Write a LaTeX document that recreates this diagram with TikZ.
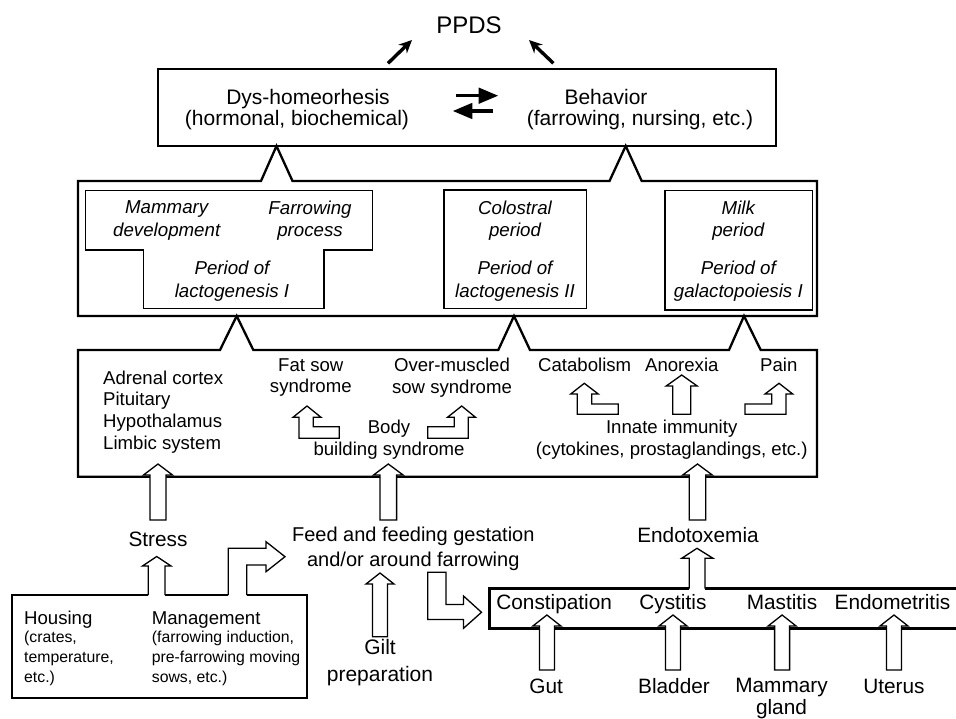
\documentclass[tikz,border=0pt]{standalone}
\usepackage{fontspec}
\setmainfont{Liberation Sans}
\usetikzlibrary{arrows, arrows.meta}

\tikzstyle{frame} = [line width=2.3pt, line join=miter]
\tikzstyle{inner} = [line width=1.3pt]
\tikzstyle{hollow} = [draw=black, fill=white, line width=1.3pt, line join=miter]
\tikzstyle{arrow} = [line width=3.4pt, -{Stealth[length=13pt, width=12pt]}]
\tikzstyle{swap} = [line width=3.6pt, ->, >=triangle 45]
\tikzstyle{toptext} = [font=\fontsize{21}{24}\selectfont, inner sep=0pt, anchor=base]
\tikzstyle{period} = [font=\fontsize{18.7}{22.5}\selectfont\itshape, align=center, inner sep=0pt]
\tikzstyle{factor} = [font=\fontsize{18.6}{21.8}\selectfont, align=center, inner sep=0pt]
\tikzstyle{cause} = [font=\fontsize{20.8}{25.5}\selectfont, align=center, inner sep=0pt]
\tikzstyle{note} = [font=\fontsize{15.8}{20}\selectfont, align=left, inner sep=0pt]

% straight block arrow: centre x, foot y, tip y, half shaft width
\newcommand{\blockup}[4]{%
  \draw[hollow] (#1-#4,#2) -- (#1-#4,#3+11) -- (#1-#4-6.5,#3+11) -- (#1,#3)
    -- (#1+#4+6.5,#3+11) -- (#1+#4,#3+11) -- (#1+#4,#2) -- cycle;}

\begin{document}
\begin{tikzpicture}[x=1pt, y=-1pt]
	\useasboundingbox (0,0) rectangle (956,719);

	% outcome
	\node (ppds) [font=\fontsize{24}{28}\selectfont, inner sep=0pt, anchor=base] at (469,33.6) {PPDS};
	\node (topbox) [draw, line width=1.5pt, minimum width=618pt, minimum height=77pt, inner sep=0pt] at (467,107.5) {};
	\node (dys) [toptext] at (308,104.5) {Dys-homeorhesis};
	\node (dysnote) [toptext] at (297,125.5) {(hormonal, biochemical)};
	\node (beh) [toptext] at (606,104.5) {Behavior};
	\node (behnote) [toptext] at (640,125.5) {(farrowing, nursing, etc.)};

	\coordinate (pl) at (388,63.3);
	\coordinate (pl-tip) at (412,40);
	\coordinate (pr) at (553.4,63.3);
	\coordinate (pr-tip) at (529,40);
	\draw [arrow] (pl) -- (pl-tip);
	\draw [arrow] (pr) -- (pr-tip);

	\coordinate (sw1) at (456,95.7);
	\coordinate (sw2) at (498,95.7);
	\coordinate (sw3) at (493,111);
	\coordinate (sw4) at (453,111);
	\draw [swap] (sw1) -- (sw2);
	\draw [swap] (sw3) -- (sw4);

	% periods
	\draw [frame] (78,181) -- (261,181) -- (276.5,146) -- (292.5,181) -- (609.5,181) -- (625.7,146) -- (641.7,181)
		-- (817,181) -- (817,316) -- (78,316) -- cycle;
	\draw [inner] (85.7,190.7) -- (372.7,190.7) -- (372.7,250) -- (324,250) -- (324,308.3)
		-- (143.3,308.3) -- (143.3,250) -- (85.7,250) -- cycle;
	\draw [inner] (444,190) rectangle (586.7,308.3);
	\draw [inner] (665,190.7) rectangle (812.7,310);

	\node (mamm) [period] at (166.7,220.5) {Mammary\\development};
	\node (farr) [period] at (310,220.5) {Farrowing\\process};
	\node (lact1) [period] at (232,281) {Period of\\lactogenesis I};
	\node (colo) [period] at (515,220.5) {Colostral\\period};
	\node (lact2) [period] at (515,281) {Period of\\lactogenesis II};
	\node (milk) [period] at (738.3,220.5) {Milk\\period};
	\node (galac) [period] at (738.3,281) {Period of\\galactopoiesis I};

	% mechanisms
	\draw [frame] (78,350) -- (220,350) -- (236.7,316) -- (253.3,350) -- (498.3,350) -- (514,316) -- (530,350)
		-- (729,350) -- (744,316) -- (760.7,350) -- (817,350) -- (817,476.7) -- (78,476.7) -- cycle;

	\node (brain) [factor, align=left, anchor=west] at (103,412) {Adrenal cortex\\Pituitary\\Hypothalamus\\Limbic system};
	\node (fatsow) [factor] at (310.8,377.5) {Fat sow\\syndrome};
	\node (overm) [factor] at (452,377.5) {Over-muscled\\sow syndrome};
	\node (body) [factor] at (389,440) {Body\\building syndrome};
	\node (catab) [factor, anchor=base] at (584.7,371.7) {Catabolism};
	\node (anor) [factor, anchor=base] at (681.8,371.7) {Anorexia};
	\node (pain) [factor, anchor=base] at (778.8,371.7) {Pain};
	\node (innate) [factor] at (671.7,440) {Innate immunity\\(cytokines, prostaglandings, etc.)};

	\draw [hollow] (299,438.3) -- (299,417.3) -- (293,417.3) -- (307,406) -- (321,417.3) -- (313.3,417.3)
		-- (313.3,426.7) -- (339.3,426.7) -- (339.3,438.3) -- cycle;
	\draw [hollow] (468.3,438.3) -- (468.3,417.3) -- (475.5,417.3) -- (461.7,406) -- (447.5,417.3) -- (454.3,417.3)
		-- (454.3,426.7) -- (427.7,426.7) -- (427.7,438.3) -- cycle;
	\draw [hollow] (577.3,414.3) -- (577.3,394) -- (570.7,394) -- (584.3,383.3) -- (598.3,394) -- (591.7,394)
		-- (591.7,404) -- (618.3,404) -- (618.3,414.3) -- cycle;
	\blockup{681.7}{414.3}{375}{9}
	\draw [hollow] (786,414.3) -- (786,394) -- (792.7,394) -- (779,383.3) -- (765,394) -- (771.7,394)
		-- (771.7,404) -- (745,404) -- (745,414.3) -- cycle;

	% causes
	\node (stress) [cause, anchor=base] at (158,546.8) {Stress};
	\node (feed) [cause, font=\fontsize{20}{25}\selectfont] at (413.3,548.5) {Feed and feeding gestation\\and/or around farrowing};
	\node (endo) [cause, anchor=base] at (698,542.5) {Endotoxemia};
	\node (gilt) [cause, font=\fontsize{21}{26.7}\selectfont] at (380,662.5) {Gilt\\preparation};

	\blockup{158}{520}{464}{8}
	\blockup{388.3}{520}{464}{8.3}
	\blockup{697.5}{520}{464}{8.3}
	\blockup{380}{636.7}{573}{7.5}

	% housing and management
	\draw [frame] (148.3,595) -- (11.7,595) -- (11.7,698.3) -- (307.3,698.3) -- (307.3,595) -- (246.7,595);
	\draw [frame] (165,595) -- (228.3,595);
	\draw [hollow] (148.3,595) -- (148.3,566) -- (142.5,566) -- (156.7,556.5) -- (171,566) -- (165,566) -- (165,595);
	\draw [hollow] (228.3,595) -- (228.3,548.3) -- (266,548.3) -- (266,541.7) -- (285,556.7) -- (266,571.7)
		-- (266,565) -- (246.7,565) -- (246.7,595);

	\node (housing) [factor, anchor=base west] at (24,624) {Housing};
	\node (housingnote) [note, anchor=west] at (24,658) {(crates,\\temperature,\\etc.)};
	\node (mgmt) [factor, anchor=base west] at (151.7,624) {Management};
	\node (mgmtnote) [note, anchor=west] at (151.7,658) {(farrowing induction,\\pre-farrowing moving\\sows, etc.)};

	% infections
	\draw [hollow] (427.7,572.3) -- (446,572.3) -- (446,604.5) -- (463.5,604.5) -- (463.5,596) -- (481.5,612.3)
		-- (463.5,628.3) -- (463.5,619.5) -- (427.7,619.5) -- cycle;
	\draw [frame] (689.3,588.5) -- (489.5,588.5) -- (489.5,628.5) -- (962,628.5);
	\draw [frame] (705,588.5) -- (962,588.5);
	\draw [hollow] (689.3,588.5) -- (689.3,558.3) -- (681.7,558.3) -- (697,548.3) -- (713,558.3) -- (705,558.3) -- (705,588.5);

	\node (constip) [cause, anchor=base] at (554.2,609.2) {Constipation};
	\node (cyst) [cause, anchor=base] at (672.9,609.2) {Cystitis};
	\node (mast) [cause, anchor=base] at (782,609.2) {Mastitis};
	\node (endom) [cause, anchor=base] at (892.5,609.2) {Endometritis};

	\blockup{546.9}{670}{615}{7.5}
	\blockup{673}{670}{615}{7.5}
	\blockup{782.1}{670}{615}{7.5}
	\blockup{894}{670}{615}{7.5}

	\node (gut) [cause, anchor=base] at (546.2,693.5) {Gut};
	\node (bladder) [cause, anchor=base] at (674,693.5) {Bladder};
	\node (gland) [cause, font=\fontsize{20.8}{22}\selectfont, anchor=base] at (781.5,714.5) {Mammary\\gland};
	\node (uterus) [cause, anchor=base] at (894,693.5) {Uterus};
\end{tikzpicture}
\end{document}
